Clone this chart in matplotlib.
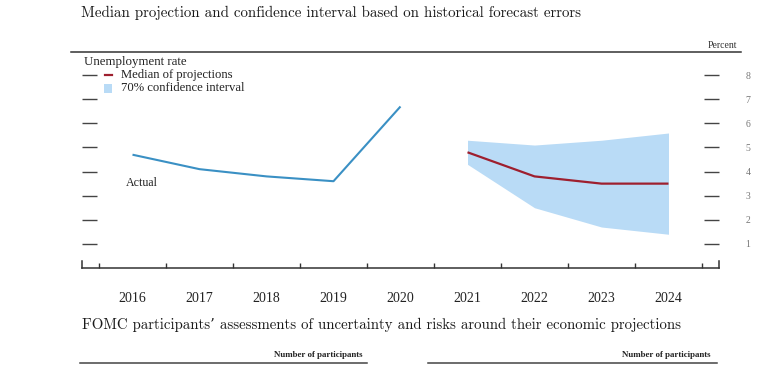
import matplotlib
matplotlib.use("Agg")
import matplotlib.pyplot as plt
from matplotlib.lines import Line2D
from matplotlib.patches import Rectangle

# ---- data ----
actual_years = [2016, 2017, 2018, 2019, 2020]
actual_rate = [4.7, 4.1, 3.8, 3.6, 6.7]
proj_years = [2021, 2022, 2023, 2024]
median_proj = [4.8, 3.8, 3.5, 3.5]
ci_low = [4.3, 2.5, 1.7, 1.4]
ci_high = [5.3, 5.1, 5.3, 5.6]
year_labels = ["2016", "2017", "2018", "2019", "2020", "2021", "2022", "2023", "2024"]
y_ticks = [1, 2, 3, 4, 5, 6, 7, 8]

W, H = 772, 366
fig = plt.figure(figsize=(W / 100, H / 100), dpi=100)

def fx(px):
    return px / W

def fy(py):
    return 1 - py / H

serif = ["Liberation Serif", "DejaVu Serif"]
cm = ["cmr10", "DejaVu Serif"]

ax = fig.add_axes([fx(82), fy(268), (719 - 82) / W, (268 - 52) / H])
ax.set_xlim(2015.2463, 2024.7537)
ax.set_ylim(0, 8.96)

blue = "#3a90c4"
red = "#9e1f2e"
band = "#b9dbf6"

ax.fill_between(proj_years, ci_low, ci_high, color=band, lw=0, zorder=1)
ax.plot(actual_years, actual_rate, color=blue, lw=1.5, zorder=3, solid_capstyle="butt")
ax.plot(proj_years, median_proj, color=red, lw=1.6, zorder=3, solid_capstyle="butt")

# spines
ax.spines["top"].set_visible(False)
for s in ["left", "right"]:
    ax.spines[s].set_bounds(0, 0.3)
for s in ["left", "right", "bottom"]:
    ax.spines[s].set_color("#333333")
    ax.spines[s].set_linewidth(1.1)

# y ticks
ax.set_yticks(y_ticks)
ax.set_yticklabels([str(v) for v in y_ticks])
ax.tick_params(axis="y", which="major", direction="in", length=11, width=1.0,
               color="#444444", left=True, right=True, labelleft=False,
               labelright=True, pad=19, labelsize=7, labelcolor="#777777")
for t in ax.get_yticklabels():
    t.set_fontfamily(serif)

# x ticks
ax.set_xticks([2016 + i for i in range(len(year_labels))])
ax.set_xticklabels(year_labels)
ax.set_xticks([2015.5 + i for i in range(len(year_labels) + 1)], minor=True)
ax.tick_params(axis="x", which="major", length=0, pad=17, labelsize=10,
               labelcolor="#222222")
ax.tick_params(axis="x", which="minor", direction="in", length=3.6, width=1.0,
               color="#333333")
for t in ax.get_xticklabels():
    t.set_fontfamily(serif)

# top rule
fig.add_artist(Line2D([fx(71), fx(741)], [fy(51.5), fy(51.5)], color="#333333", lw=1.1))

# titles
fig.text(fx(81), fy(13), "Median projection and confidence interval based on historical forecast errors",
         family=cm, fontsize=10.8, va="center", ha="left", color="#1a1a1a")
fig.text(fx(82), fy(325), "FOMC participants\u2019 assessments of uncertainty and risks around their economic projections",
         family=cm, fontsize=10.7, va="center", ha="left", color="#1a1a1a")
fig.text(fx(737), fy(45), "Percent", family=serif, fontsize=7, va="center", ha="right",
         color="#333333")

# legend
fig.text(fx(84), fy(62), "Unemployment rate", family=serif, fontsize=9.3, va="center", ha="left",
         color="#222222")
fig.add_artist(Line2D([fx(105), fx(112)], [fy(75), fy(75)], color=red, lw=1.6))
fig.text(fx(121), fy(75), "Median of projections", family=serif, fontsize=9.1, va="center",
         ha="left", color="#222222")
fig.add_artist(Rectangle((fx(104), fy(93)), 8 / W, 9 / H, transform=fig.transFigure,
                         facecolor=band, edgecolor="none"))
fig.text(fx(121), fy(88), "70% confidence interval", family=serif, fontsize=9.1, va="center",
         ha="left", color="#222222")
fig.text(fx(126), fy(183), "Actual", family=serif, fontsize=8.6, va="center", ha="left",
         color="#222222")

# lower panel headers
fig.text(fx(362), fy(355), "Number of participants", family=serif, fontsize=6.4,
         fontweight="bold", va="center", ha="right", color="#222222")
fig.add_artist(Line2D([fx(80), fx(367)], [fy(363), fy(363)], color="#444444", lw=1.1))
fig.text(fx(710), fy(355), "Number of participants", family=serif, fontsize=6.4,
         fontweight="bold", va="center", ha="right", color="#222222")
fig.add_artist(Line2D([fx(428), fx(717)], [fy(363), fy(363)], color="#444444", lw=1.1))

fig.savefig("out.png", dpi=100)
